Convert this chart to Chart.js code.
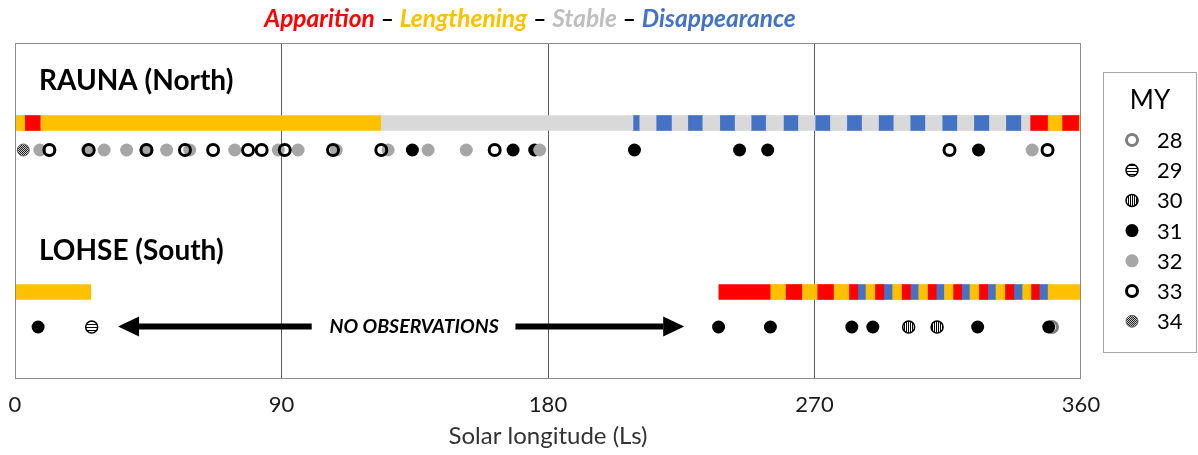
<!DOCTYPE html>
<html>
<head>
<meta charset="utf-8">
<script src="https://cdn.jsdelivr.net/npm/chart.js@4.4.1/dist/chart.umd.min.js"></script>
<style>
  html, body { margin: 0; padding: 0; background: #fff; }
  #wrap { width: 1198px; height: 455px; }
</style>
</head>
<body>
<div id="wrap"><canvas id="c" width="1198" height="455"></canvas></div>
<script>
// ---- Data -----------------------------------------------------------------
// Phase codes: A = Apparition, L = Lengthening, S = Stable, D = Disappearance, '' = no data
const phaseNames = ['Apparition', 'Lengthening', 'Stable', 'Disappearance'];
const phaseCodes = ['A', 'L', 'S', 'D'];

// Interval boundaries (Ls) and the phase of each interval between them
const raunaBounds = [0, 3.5, 8.5, 123.5, 208.7, 211, 216.5, 221.9, 227.2, 232.3, 238, 243.2,
  248.6, 253.7, 259.5, 264.6, 270.2, 275.4, 280.9, 286.1, 291.6, 296.8, 302.3, 307.5,
  313.1, 318.3, 323.8, 329.1, 334.6, 339.9, 343, 348.7, 353.8, 359.2, 360];
const raunaPhases = ['L', 'A', 'L', 'S', 'D', 'S', 'D', 'S', 'D', 'S', 'D', 'S',
  'D', 'S', 'D', 'S', 'D', 'S', 'D', 'S', 'D', 'S', 'D', 'S',
  'D', 'S', 'D', 'S', 'D', 'S', 'A', 'L', 'A', 'L'];

const lohseBounds = [0, 25.6, 237.7, 255, 260.4, 265.7, 271.1, 276.4, 281.8, 284.6, 287.4,
  290.6, 293.4, 296.4, 299.6, 302.4, 305.2, 308.4, 311.1, 313.9, 317, 319.7, 322.5,
  325.7, 328.5, 331.3, 334.5, 337.3, 340.3, 343.3, 345.9, 348.9, 360];
const lohsePhases = ['L', '', 'A', 'L', 'A', 'L', 'A', 'L', 'A', 'D',
  'L', 'A', 'D', 'L', 'A', 'D', 'L', 'A', 'D', 'L', 'A', 'D',
  'L', 'A', 'D', 'L', 'A', 'D', 'L', 'A', 'D', 'L'];

// Observations (Ls) by Mars Year
const marsYears = ['28', '29', '30', '31', '32', '33', '34'];
const raunaMY28 = [];
const raunaMY29 = [];
const raunaMY30 = [];
const raunaMY31 = [134.2, 168.2, 175.5, 209.2, 244.7, 254.2, 325.4];
const raunaMY32 = [8.4, 24.5, 30.1, 37.7, 44.2, 51.2, 59, 74.2, 88.9, 95.6, 108.5,
  126, 139.5, 152.4, 177.2, 343.5];
const raunaMY33 = [11.6, 24.9, 44.4, 57.4, 66.9, 78.7, 83.3, 91.1, 107.4, 123.7, 162,
  315.6, 348.7];
const raunaMY34 = [2.8];

const lohseMY28 = [350.2];
const lohseMY29 = [25.9];
const lohseMY30 = [301.8, 311.4];
const lohseMY31 = [7.8, 237.6, 255.1, 282.6, 289.7, 325.1, 349.1];
const lohseMY32 = [];
const lohseMY33 = [];
const lohseMY34 = [];

const xTicks = [0, 90, 180, 270, 360];

// ---- Layout (vertical positions on a hidden 0..335 axis, top = 0) -----------
const ROW = { raunaLabel: 45, raunaBar: 80, raunaDots: 107, lohseLabel: 215, lohseBar: 249, lohseDots: 284 };
const FONT = 'Lato, "Open Sans", sans-serif';

// ---- Styles ---------------------------------------------------------------
const phaseColor = { A: '#ff0000', L: '#ffc000', S: '#d9d9d9', D: '#4472c4' };
const titleColor = { A: '#ff0000', L: '#ffc000', S: '#bfbfbf', D: '#4472c4' };

function makePattern(w, h, paint) {
  const c = document.createElement('canvas');
  c.width = w; c.height = h;
  const g = c.getContext('2d');
  paint(g);
  return g.createPattern(c, 'repeat');
}
const hStripes = makePattern(1, 3, g => {
  g.fillStyle = '#fff'; g.fillRect(0, 0, 1, 3);
  g.fillStyle = '#000'; g.fillRect(0, 0, 1, 1);
});
const vStripes = makePattern(2, 1, g => {
  g.fillStyle = '#fff'; g.fillRect(0, 0, 2, 1);
  g.fillStyle = '#000'; g.fillRect(0, 0, 1, 1);
});
const checker = makePattern(2, 2, g => {
  g.fillStyle = '#c8c8c8'; g.fillRect(0, 0, 2, 2);
  g.fillStyle = '#222'; g.fillRect(0, 0, 1, 1); g.fillRect(1, 1, 1, 1);
});

const yearStyle = {
  '28': { bg: 'rgba(0,0,0,0)', border: '#7f7f7f', bw: 3, r: 5.5 },
  '29': { bg: hStripes, border: '#000', bw: 1.5, r: 6 },
  '30': { bg: vStripes, border: '#000', bw: 1.5, r: 6 },
  '31': { bg: '#000', border: '#000', bw: 0, r: 6.5 },
  '32': { bg: '#a6a6a6', border: '#a6a6a6', bw: 0, r: 6.5 },
  '33': { bg: 'rgba(0,0,0,0)', border: '#000', bw: 3, r: 5.5 },
  '34': { bg: checker, border: '#666', bw: 1, r: 6 }
};

// ---- Datasets -------------------------------------------------------------
function segments(bounds, phases, code, y) {
  const out = [];
  phases.forEach((p, i) => { if (p === code) out.push({ x: [bounds[i], bounds[i + 1]], y }); });
  return out;
}

const barSets = phaseCodes.map((code, k) => ({
  type: 'bar',
  label: phaseNames[k],
  indexAxis: 'y',
  grouped: false,
  barThickness: 15,
  borderWidth: 0,
  borderSkipped: false,
  backgroundColor: phaseColor[code],
  order: 20,
  data: segments(raunaBounds, raunaPhases, code, ROW.raunaBar)
    .concat(segments(lohseBounds, lohsePhases, code, ROW.lohseBar))
}));

const raunaByYear = [raunaMY28, raunaMY29, raunaMY30, raunaMY31, raunaMY32, raunaMY33, raunaMY34];
const lohseByYear = [lohseMY28, lohseMY29, lohseMY30, lohseMY31, lohseMY32, lohseMY33, lohseMY34];

const pointSets = marsYears.map((my, i) => {
  const s = yearStyle[my];
  return {
    type: 'scatter',
    label: my,
    order: marsYears.length - i,
    pointStyle: 'circle',
    pointRadius: s.r,
    pointHoverRadius: s.r,
    pointBackgroundColor: s.bg,
    pointBorderColor: s.border,
    pointBorderWidth: s.bw,
    showLine: false,
    clip: false,
    data: raunaByYear[i].map(v => ({ x: v, y: ROW.raunaDots }))
      .concat(lohseByYear[i].map(v => ({ x: v, y: ROW.lohseDots })))
  };
});

// ---- Drawing helpers --------------------------------------------------------
const decorations = {
  id: 'decorations',
  afterDraw(chart) {
    const { ctx, chartArea: a, scales: { x, y } } = chart;
    ctx.save();

    // plot frame
    ctx.strokeStyle = '#8c8c8c';
    ctx.lineWidth = 1;
    ctx.strokeRect(a.left + 0.5, a.top + 0.5, a.right - a.left - 1, a.bottom - a.top);

    // phase title line
    const parts = [
      [phaseNames[0], titleColor.A], [' \u2013 ', '#000'],
      [phaseNames[1], titleColor.L], [' \u2013 ', '#000'],
      [phaseNames[2], titleColor.S], [' \u2013 ', '#000'],
      [phaseNames[3], titleColor.D]
    ];
    ctx.font = 'italic bold 24.5px ' + FONT;
    ctx.textBaseline = 'middle';
    ctx.textAlign = 'left';
    const total = parts.reduce((w, p) => w + ctx.measureText(p[0]).width, 0);
    let tx = 530 - total / 2;
    parts.forEach(([t, c]) => { ctx.fillStyle = c; ctx.fillText(t, tx, 19); tx += ctx.measureText(t).width; });

    // row labels
    ctx.fillStyle = '#000';
    ctx.font = 'bold 28px ' + FONT;
    ctx.fillText('RAUNA (North)', 39, y.getPixelForValue(ROW.raunaLabel) - 7);
    ctx.fillText('LOHSE (South)', 39, y.getPixelForValue(ROW.lohseLabel) - 7);

    // "no observations" arrows
    const ay = y.getPixelForValue(ROW.lohseDots) - 0.5;
    function arrow(tailLs, tipLs) {
      const x0 = x.getPixelForValue(tailLs), x1 = x.getPixelForValue(tipLs);
      const dir = Math.sign(x1 - x0), head = 21;
      ctx.fillRect(Math.min(x0, x1 - dir * head), ay - 3, Math.abs(x1 - dir * head - x0), 6);
      ctx.beginPath();
      ctx.moveTo(x1, ay);
      ctx.lineTo(x1 - dir * head, ay - 10);
      ctx.lineTo(x1 - dir * head, ay + 10);
      ctx.closePath();
      ctx.fill();
    }
    arrow(100.2, 34.8);
    arrow(169, 226);
    ctx.font = 'italic bold 19.5px ' + FONT;
    ctx.textAlign = 'center';
    ctx.fillText('NO OBSERVATIONS', x.getPixelForValue(134.8), ay);

    // MY legend
    const lx = 1103, ly = 72, lw = 93, lh = 280;
    ctx.strokeStyle = '#a6a6a6';
    ctx.strokeRect(lx + 0.5, ly + 0.5, lw, lh);
    ctx.fillStyle = '#000';
    ctx.font = '26px ' + FONT;
    ctx.textAlign = 'center';
    ctx.fillText('MY', 1150, 101);
    ctx.font = '22px ' + FONT;
    ctx.textAlign = 'left';
    marsYears.forEach((my, i) => {
      const s = yearStyle[my];
      const cy = 140 + i * 30.2;
      ctx.beginPath();
      ctx.arc(1132, cy, s.r, 0, Math.PI * 2);
      ctx.fillStyle = s.bg;
      ctx.fill();
      if (s.bw > 0) { ctx.lineWidth = s.bw; ctx.strokeStyle = s.border; ctx.stroke(); }
      ctx.fillStyle = '#000';
      ctx.fillText(my, 1157, cy + 1);
    });

    ctx.restore();
  }
};

// ---- Chart ------------------------------------------------------------------
Chart.defaults.font.family = FONT;

new Chart(document.getElementById('c'), {
  type: 'scatter',
  data: { datasets: barSets.concat(pointSets) },
  options: {
    responsive: false,
    animation: false,
    events: [],
    layout: { padding: { top: 43, left: 15, right: 117, bottom: 0 } },
    plugins: { legend: { display: false }, tooltip: { enabled: false } },
    scales: {
      x: {
        type: 'linear',
        min: 0,
        max: 360,
        offset: false,
        afterBuildTicks: s => { s.ticks = xTicks.map(v => ({ value: v })); },
        afterFit: s => { s.height = 77; s.paddingLeft = 0; s.paddingRight = 0; },
        grid: {
          color: c => (c.tick && (c.tick.value === 0 || c.tick.value === 360)) ? 'rgba(0,0,0,0)' : '#595959',
          lineWidth: 1,
          drawTicks: false
        },
        border: { display: false },
        ticks: { padding: 14, color: '#1a1a1a', font: { size: 22 }, maxRotation: 0, autoSkip: false },
        title: {
          display: true,
          text: 'Solar longitude (Ls)',
          color: '#333',
          font: { size: 24 },
          padding: { top: 0, bottom: 4 }
        }
      },
      y: {
        type: 'linear',
        display: false,
        offset: false,
        reverse: true,
        min: 0,
        max: 335
      }
    }
  },
  plugins: [decorations]
});
</script>
</body>
</html>
